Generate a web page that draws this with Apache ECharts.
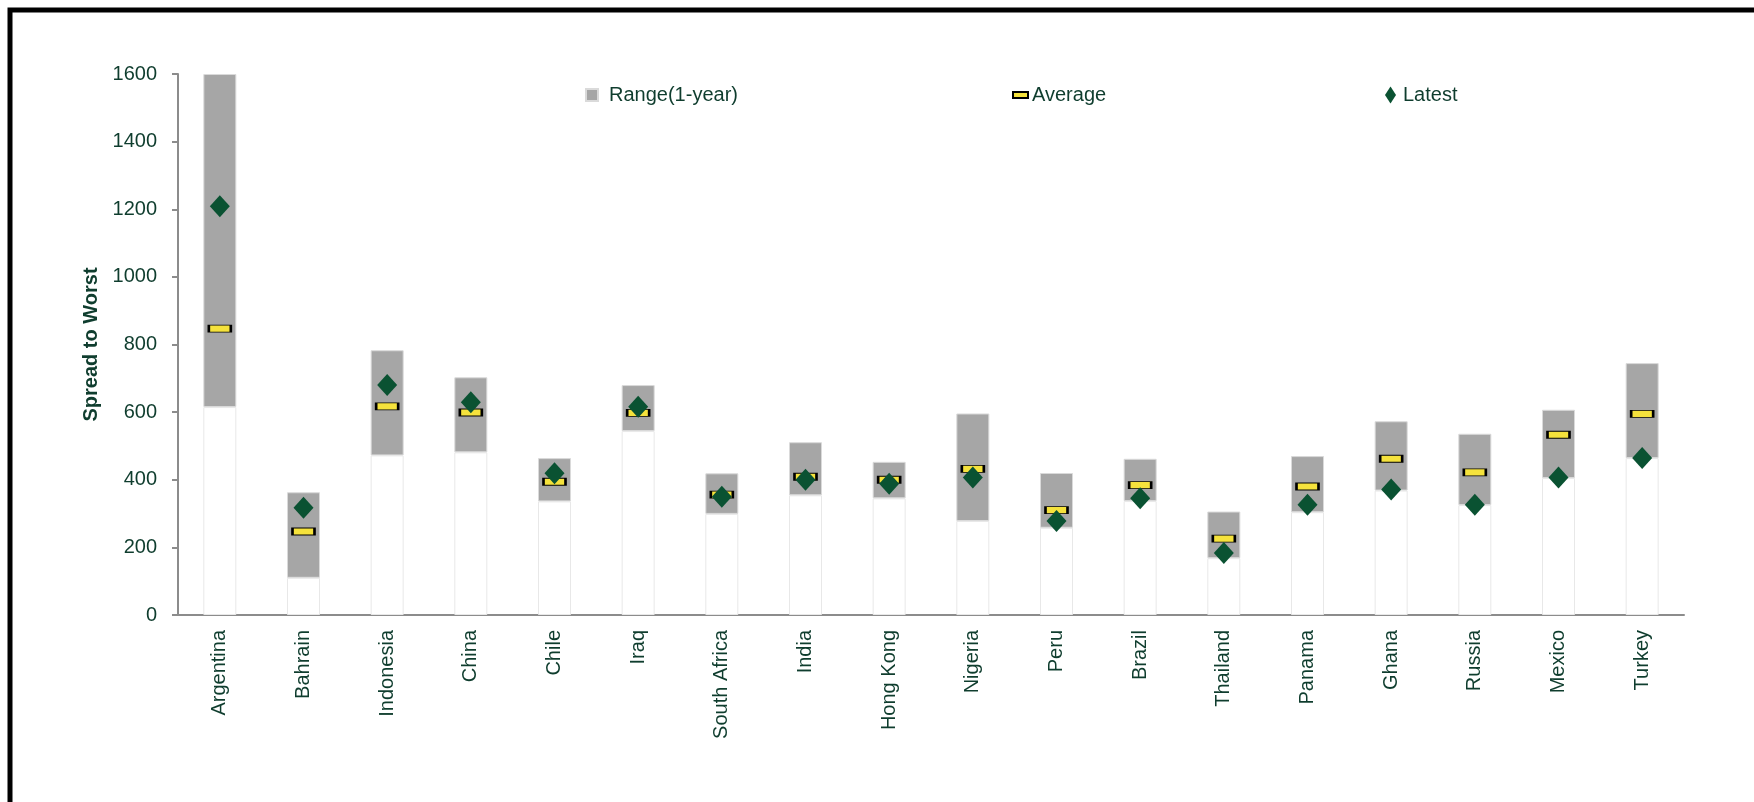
<!DOCTYPE html>
<html>
<head>
<meta charset="utf-8">
<script src="https://cdn.jsdelivr.net/npm/echarts@6/dist/echarts.min.js"></script>
<style>
  html, body { margin: 0; padding: 0; background: #fff; }
  #container { width: 1754px; height: 802px; }
</style>
</head>
<body>
<div id="container"></div>
<script>
    var countries = ["Argentina", "Bahrain", "Indonesia", "China", "Chile", "Iraq", "South Africa", "India", "Hong Kong",
                     "Nigeria", "Peru", "Brazil", "Thailand", "Panama", "Ghana", "Russia", "Mexico", "Turkey"];
    // 1-year low / high, average and latest spread
    var lows    = [615, 110, 472, 481, 336, 544, 299, 354, 345, 278, 258, 337, 168, 304, 368, 325, 405, 464];
    var highs   = [1600, 363, 783, 703, 464, 680, 419, 511, 453, 596, 420, 462, 306, 470, 573, 536, 607, 745];
    var avgs    = [847, 247, 617, 599, 394, 598, 356, 409, 400, 432, 310, 384, 226, 380, 462, 422, 533, 595];
    var latests = [1209, 317, 680, 629, 419, 616, 350, 400, 388, 407, 278, 345, 183, 326, 371, 326, 407, 464];
    var yTicks  = [0, 1600, 200];   // min, max, interval

    var font = "'Liberation Sans Narrow', 'Arial Narrow', 'Liberation Sans', Arial, sans-serif";
    var txt = '#0f3d2e';
    var fs = 20;

    /*区间高度 = 高 - 低*/
    var ranges = [];
    for (var i = 0; i < highs.length; i++) ranges.push(highs[i] - lows[i]);

    var myChart = echarts.init(document.getElementById('container'));
    myChart.setOption({
        animation: false,
        textStyle: { fontFamily: font, color: txt },
        graphic: [{
            type: 'rect',
            shape: { x: 10, y: 10, width: 1800, height: 900 },
            style: { fill: 'none', stroke: '#000', lineWidth: 5 },
            silent: true
        }],
        legend: [
            { left: 585, top: 85, padding: 0, itemWidth: 12, itemHeight: 12, data: [{ name: 'Range(1-year)', icon: 'rect' }],
              textStyle: { fontFamily: font, fontSize: fs, color: txt, padding: [0, 0, 0, 6] } },
            { left: 1012, top: 85, padding: 0, itemWidth: 15, itemHeight: 6, data: [{ name: 'Average', icon: 'rect' }],
              textStyle: { fontFamily: font, fontSize: fs, color: txt, padding: [0, 0, 0, -1] } },
            { left: 1385, top: 85, padding: 0, itemWidth: 11, itemHeight: 17, data: [{ name: 'Latest', icon: 'diamond' }],
              textStyle: { fontFamily: font, fontSize: fs, color: txt, padding: [0, 0, 0, 2] } }
        ],
        grid: { left: 178, right: 70, top: 74, bottom: 187, containLabel: false },
        xAxis: {
            type: 'category',
            data: countries,
            axisLine: { lineStyle: { color: '#8c8c8c', width: 2 } },
            axisTick: { length: 6, lineStyle: { color: '#8c8c8c', width: 2 } },
            axisLabel: { rotate: 90, margin: 15, fontFamily: font, fontSize: fs, color: txt }
        },
        yAxis: {
            type: 'value',
            min: yTicks[0], max: yTicks[1], interval: yTicks[2],
            name: 'Spread to Worst',
            nameLocation: 'middle',
            nameRotate: 90,
            nameGap: 49,
            nameTextStyle: { fontFamily: font, fontSize: 20, fontWeight: 'bold', color: txt },
            axisLine: { show: true, lineStyle: { color: '#8c8c8c', width: 2 } },
            axisTick: { show: true, length: 6, lineStyle: { color: '#8c8c8c', width: 2 } },
            axisLabel: { margin: 21, fontFamily: font, fontSize: fs, color: txt,
                         formatter: function (v) { return String(v); } },
            splitLine: { show: false }
        },
        series: [
            {
                name: 'base',
                type: 'bar',
                stack: 'r',
                barWidth: 33,
                data: lows,
                itemStyle: { color: '#ffffff', borderColor: '#e8e8e8', borderWidth: 1 }
            },
            {
                name: 'Range(1-year)',
                type: 'bar',
                stack: 'r',
                barWidth: 33,
                data: ranges,
                itemStyle: { color: '#a6a6a6', borderColor: '#dadada', borderWidth: 1 }
            },
            {
                name: 'Average',
                type: 'scatter',
                symbol: 'rect',
                symbolSize: [22, 7],
                data: avgs,
                z: 3,
                itemStyle: { color: '#f5e23c', borderColor: '#000', borderWidth: 1.5, opacity: 1 }
            },
            {
                name: 'Latest',
                type: 'scatter',
                symbol: 'diamond',
                symbolSize: [20, 22],
                data: latests,
                z: 4,
                itemStyle: { color: '#0a5232', opacity: 1 }
            }
        ]
    });
</script>
</body>
</html>
